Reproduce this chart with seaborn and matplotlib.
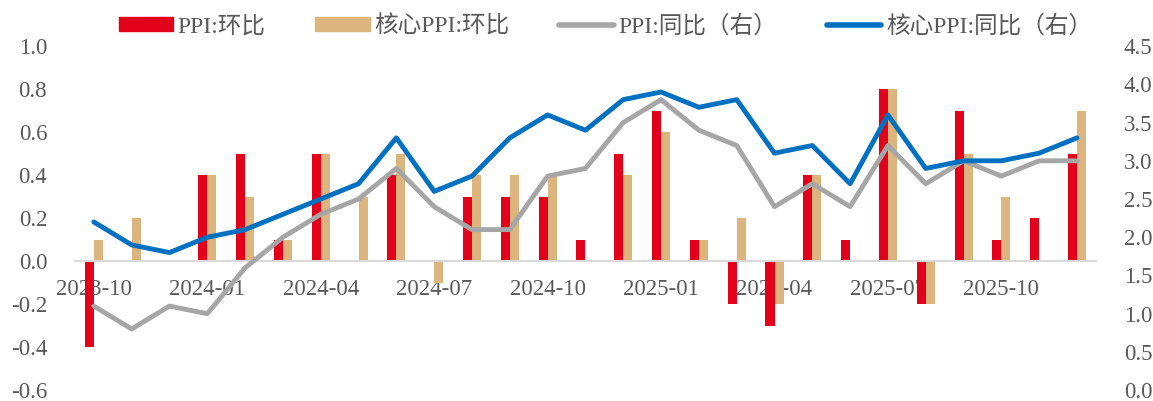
import numpy as np
import pandas as pd
import seaborn as sns
import matplotlib.pyplot as plt
from matplotlib.patches import Patch
from matplotlib.lines import Line2D

months = ['2023-10', '2023-11', '2023-12', '2024-01', '2024-02', '2024-03', '2024-04',
          '2024-05', '2024-06', '2024-07', '2024-08', '2024-09', '2024-10', '2024-11',
          '2024-12', '2025-01', '2025-02', '2025-03', '2025-04', '2025-05', '2025-06',
          '2025-07', '2025-08', '2025-09', '2025-10', '2025-11', '2025-12']

ppi_mom = [-0.4, 0.0, 0.0, 0.4, 0.5, 0.1, 0.5, 0.0, 0.4, 0.0, 0.3, 0.3, 0.3, 0.1,
           0.5, 0.7, 0.1, -0.2, -0.3, 0.4, 0.1, 0.8, -0.2, 0.7, 0.1, 0.2, 0.5]
core_mom = [0.1, 0.2, 0.0, 0.4, 0.3, 0.1, 0.5, 0.3, 0.5, -0.1, 0.4, 0.4, 0.4, 0.0,
            0.4, 0.6, 0.1, 0.2, -0.2, 0.4, 0.0, 0.8, -0.2, 0.5, 0.3, 0.0, 0.7]
ppi_yoy = [1.1, 0.8, 1.1, 1.0, 1.6, 2.0, 2.3, 2.5, 2.9, 2.4, 2.1, 2.1, 2.8, 2.9,
           3.5, 3.8, 3.4, 3.2, 2.4, 2.7, 2.4, 3.2, 2.7, 3.0, 2.8, 3.0, 3.0]
core_yoy = [2.2, 1.9, 1.8, 2.0, 2.1, 2.3, 2.5, 2.7, 3.3, 2.6, 2.8, 3.3, 3.6, 3.4,
            3.8, 3.9, 3.7, 3.8, 3.1, 3.2, 2.7, 3.6, 2.9, 3.0, 3.0, 3.1, 3.3]

labels = ['PPI:环比', '核心PPI:环比', 'PPI:同比（右）', '核心PPI:同比（右）']
c_red, c_tan, c_gray, c_blue = '#E2001A', '#DBB47E', '#A6A6A6', '#0070C0'
txt = '#595959'

sns.set_style('white')
plt.rcParams['font.family'] = ['Liberation Serif', 'Noto Sans CJK SC']
plt.rcParams['axes.unicode_minus'] = False

bars = pd.DataFrame({'month': months * 2,
                     'value': ppi_mom + core_mom,
                     'series': [labels[0]] * len(months) + [labels[1]] * len(months)})
lines = pd.DataFrame({'pos': np.arange(len(months)), 'ppi': ppi_yoy, 'core': core_yoy})

fig = plt.figure(figsize=(11.53, 4.01), dpi=100)
ax = fig.add_axes([0.065, 0.027, 0.8855, 0.858])
sns.barplot(data=bars, x='month', y='value', hue='series', order=months,
            hue_order=labels[:2], palette=[c_red, c_tan], width=0.48,
            saturation=1, linewidth=0, legend=False, ax=ax)
ax.set_xlim(-0.5, 26.5)
ax.set_ylim(-0.6, 1.0)
ax.set_yticks(np.arange(-0.6, 1.01, 0.2))
ax.set_yticklabels([f'{v:.1f}' for v in np.arange(-0.6, 1.01, 0.2)])
ax.set_xticks(range(0, len(months), 3))
ax.set_xticklabels(months[::3])
ax.set_xlabel('')
ax.set_ylabel('')
for s in ['top', 'right', 'left']:
    ax.spines[s].set_visible(False)
ax.spines['bottom'].set_position(('data', 0))
ax.spines['bottom'].set_color('#D9D9D9')
ax.spines['bottom'].set_linewidth(1.5)
ax.tick_params(axis='x', length=0, pad=13, labelsize=16.5, labelcolor=txt)
ax.tick_params(axis='y', length=0, pad=20, labelsize=16.5, labelcolor=txt)

ax2 = ax.twinx()
sns.lineplot(data=lines, x='pos', y='ppi', color=c_gray, lw=3.5, ax=ax2)
sns.lineplot(data=lines, x='pos', y='core', color=c_blue, lw=3.5, ax=ax2)
ax2.set_xlim(-0.5, 26.5)
ax2.set_ylim(0, 4.5)
ax2.set_yticks(np.arange(0, 4.51, 0.5))
ax2.set_yticklabels([f'{v:.1f}' for v in np.arange(0, 4.51, 0.5)])
ax2.set_ylabel('')
for s in ax2.spines.values():
    s.set_visible(False)
ax2.tick_params(axis='y', length=0, pad=20, labelsize=16.5, labelcolor=txt)

handles = [Patch(color=c_red), Patch(color=c_tan),
           Line2D([], [], color=c_gray, lw=4), Line2D([], [], color=c_blue, lw=4)]
fig.legend(handles, labels, loc='center', bbox_to_anchor=(0.525, 0.935), ncol=4,
           frameon=False, fontsize=17, labelcolor=txt, handlelength=2.3,
           handleheight=0.5, handletextpad=0.2, columnspacing=2.1)

fig.savefig('out.png', dpi=100)
